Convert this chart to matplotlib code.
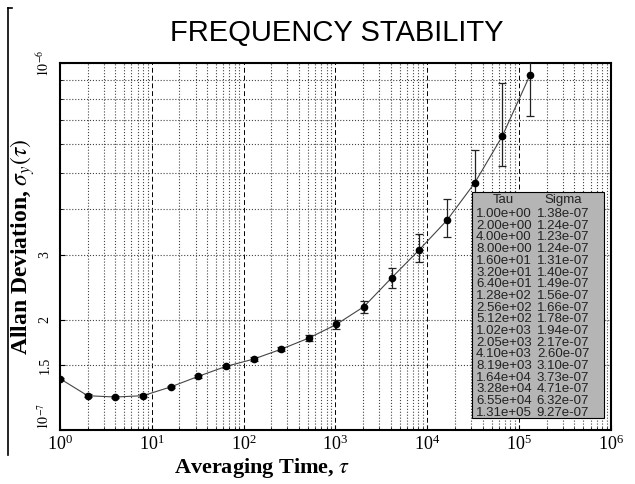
import numpy as np
import matplotlib.pyplot as plt
from matplotlib.ticker import FixedLocator, NullFormatter
from matplotlib.patches import Rectangle
from matplotlib.lines import Line2D

plt.rcParams['mathtext.fontset'] = 'stix'

tau = [1, 2, 4, 8, 16, 32, 64, 128, 256, 512, 1024, 2048, 4096, 8192,
       16384, 32768, 65536, 131072]
sigma = [1.38, 1.24, 1.23, 1.24, 1.31, 1.40, 1.49, 1.56, 1.66, 1.78, 1.94,
         2.17, 2.60, 3.10, 3.73, 4.71, 6.32, 9.27]
sig_lo = [1.37, 1.23, 1.22, 1.23, 1.30, 1.39, 1.48, 1.54, 1.64, 1.75, 1.89,
          2.09, 2.44, 2.87, 3.35, 4.00, 5.23, 7.17]
sig_hi = [1.39, 1.25, 1.24, 1.25, 1.32, 1.41, 1.50, 1.58, 1.68, 1.81, 1.99,
          2.25, 2.77, 3.41, 4.26, 5.79, 8.81, 13.0]
tau_labels = ["1.00e+00", "2.00e+00", "4.00e+00", "8.00e+00", "1.60e+01",
              "3.20e+01", "6.40e+01", "1.28e+02", "2.56e+02", "5.12e+02",
              "1.02e+03", "2.05e+03", "4.10e+03", "8.19e+03", "1.64e+04",
              "3.28e+04", "6.55e+04", "1.31e+05"]
y_major = [1.0, 1.5, 2.0, 3.0, 10.0]
y_major_labels = [r"$10^{-7}$", "1.5", "2", "3", r"$10^{-6}$"]
y_minor = [4, 5, 6, 7, 8, 9]

s = np.array(sigma) * 1e-7
lo = s - np.array(sig_lo) * 1e-7
hi = np.array(sig_hi) * 1e-7 - s

fig = plt.figure(figsize=(6.35, 4.84), dpi=100)
ax = fig.add_axes([60/635, 1 - 430/484, 551/635, 367/484])
ax.set_xscale('log')
ax.set_yscale('log')
ax.set_xlim(1, 1e6)
ax.set_ylim(1e-7, 1e-6)

ax.plot(tau, s, color='#444444', lw=0.8, zorder=3)
ax.errorbar(tau, s, yerr=[lo, hi], fmt='o', color='black', ms=4.5,
            ecolor='#222222', elinewidth=0.9, capsize=3.2, capthick=0.9, zorder=4)

ax.yaxis.set_major_locator(FixedLocator([v * 1e-7 for v in y_major]))
ax.yaxis.set_minor_locator(FixedLocator([v * 1e-7 for v in y_minor]))
ax.set_yticklabels(y_major_labels, rotation=90, va='center',
                   family='Liberation Serif', fontsize=10)
ax.get_yticklabels()[0].set_va('bottom')
ax.yaxis.set_minor_formatter(NullFormatter())
ax.grid(True, which='major', axis='x', linestyle=(0, (5, 3)), color='black', lw=0.7)
ax.grid(True, which='minor', axis='x', linestyle=':', color='#444444', lw=0.8)
ax.grid(True, which='both', axis='y', linestyle=':', color='#444444', lw=0.8)
ax.tick_params(which='both', direction='in', top=False, right=False)
ax.tick_params(axis='y', pad=6)
ax.tick_params(axis='x', labelsize=13, pad=3)
for lab in ax.get_xticklabels():
    lab.set_family('Liberation Serif')
for sp in ax.spines.values():
    sp.set_linewidth(1.5)

fig.text(337/635, 1 - 33/484, "FREQUENCY STABILITY", ha='center', va='center',
         family='Liberation Sans', fontsize=21)
fig.text(262/635, 1 - 468/484, r"Averaging Time, $\tau$", ha='center', va='center',
         family='Liberation Serif', fontweight='bold', fontsize=16)
fig.text(23/635, 1 - 247/484, r"Allan Deviation, $\sigma_y(\tau)$", ha='center',
         va='center', rotation=90, family='Liberation Serif', fontweight='bold',
         fontsize=17)

# table box
fig.patches.append(Rectangle((472/635, 1 - 418/484), 132/635, 226/484,
                             transform=fig.transFigure, facecolor='#b5b5b5',
                             edgecolor='black', lw=0.8, zorder=5))
fig.text(503/635, 1 - 200/484, "Tau", ha='center', va='center',
         fontsize=9.5, family='Liberation Sans', color='#222222', zorder=6)
fig.text(563/635, 1 - 200/484, "Sigma", ha='center', va='center',
         fontsize=9.5, family='Liberation Sans', color='#222222', zorder=6)
for i, (tl, sv) in enumerate(zip(tau_labels, s)):
    yy = 1 - (214 + i * 11.7) / 484
    fig.text(504/635, yy, tl, ha='center', va='center', fontsize=9.5,
             family='Liberation Sans', color='#222222', zorder=6)
    fig.text(563/635, yy, "%.2e" % sv, ha='center', va='center', fontsize=9.5,
             family='Liberation Sans', color='#222222', zorder=6)

fig.add_artist(Line2D([8/635, 8/635], [1 - 8/484, 1 - 455/484], color='black', lw=1.2))
fig.add_artist(Line2D([8/635, 12/635], [1 - 8/484, 1 - 8/484], color='black', lw=1.2))

fig.savefig('out.png', dpi=100)
